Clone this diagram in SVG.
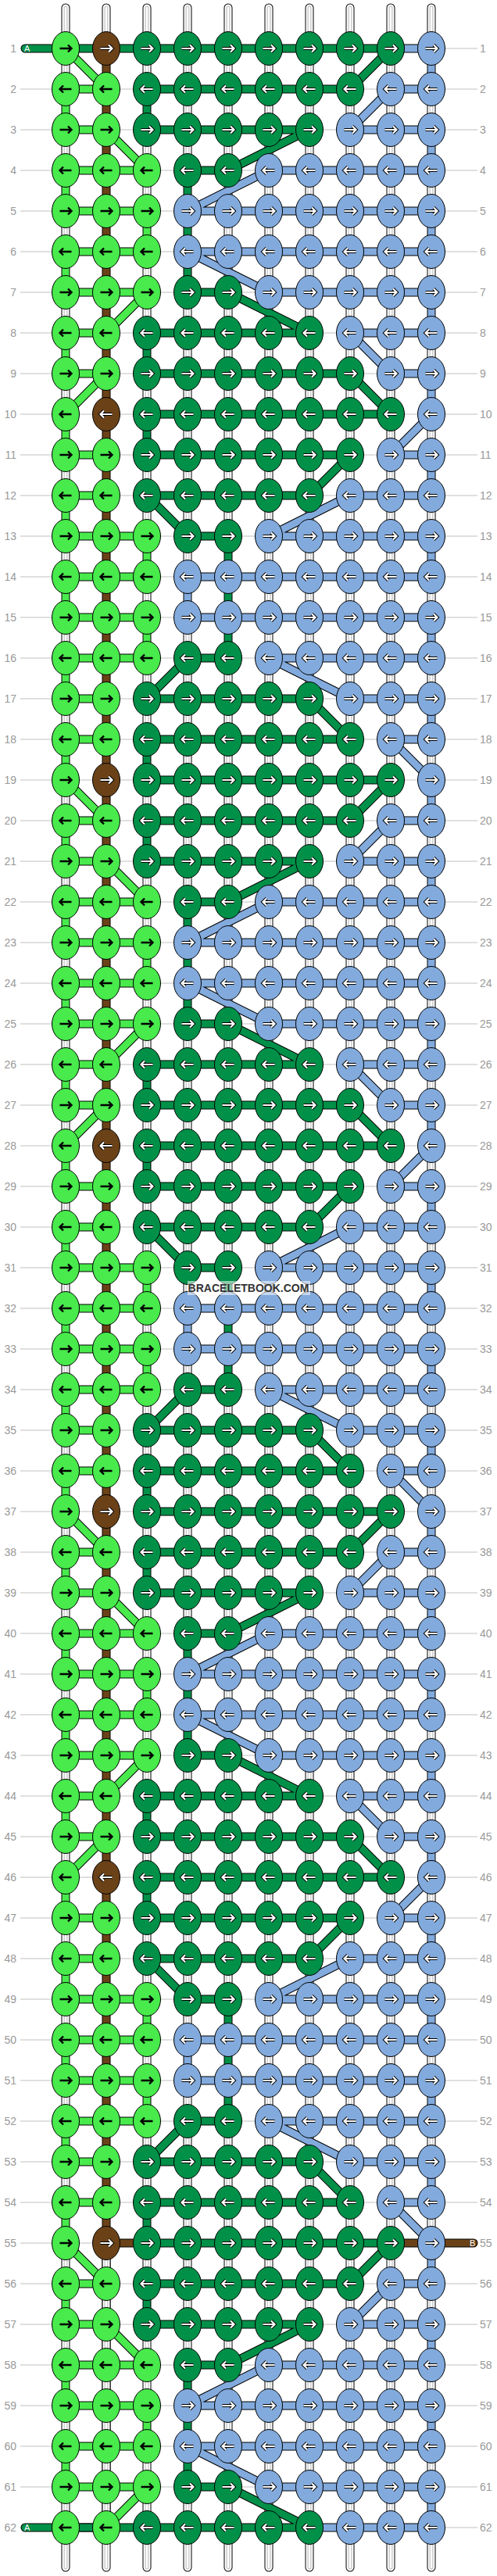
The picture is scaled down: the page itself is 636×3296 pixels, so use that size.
<svg xmlns="http://www.w3.org/2000/svg" width="636" height="3296" viewBox="0 0 636 3296">
<style>
.o{fill:none;stroke:#000;stroke-width:11}
.w{fill:none;stroke:#fff;stroke-width:9}
.g{fill:none;stroke:#c4c4c4;stroke-width:5}
.w2{fill:none;stroke:#fff;stroke-width:2.4}
.l{fill:none;stroke:#48ea4c;stroke-width:9}
.d{fill:none;stroke:#009048;stroke-width:9}
.b{fill:none;stroke:#82aadd;stroke-width:9}
.r{fill:none;stroke:#6b4218;stroke-width:9}
.rc{stroke-linecap:round}
.rl{fill:none;stroke:#c0c0c0;stroke-width:1}
.kL{fill:#48ea4c;stroke:#000;stroke-width:1}
.kD{fill:#009048;stroke:#000;stroke-width:1}
.kB{fill:#82aadd;stroke:#000;stroke-width:1}
.kR{fill:#6b4218;stroke:#000;stroke-width:1}
.ak{fill:none;stroke:#000;stroke-width:2.4}
.ao{fill:none;stroke:#000;stroke-width:4.2}
.aw{fill:none;stroke:#fff;stroke-width:2.2}
.lb{font-family:"Liberation Sans",Arial,sans-serif;font-size:14px;fill:#999}
.le{text-anchor:end}
.tag{font-family:"Liberation Sans",Arial,sans-serif;font-size:11px;fill:#fff}
.wm{font-family:"Liberation Sans",Arial,sans-serif;font-size:14px;font-weight:bold;fill:#333;text-anchor:middle}
</style>
<defs>
<ellipse id="e" rx="17.5" ry="21.5"/>
<path id="ar" d="M-7.5 0H7M3-4.5L7.5 0L3 4.5"/>
<path id="al" d="M7.5 0H-7M-3-4.5L-7.5 0L-3 4.5"/>
<g id="Lr"><use href="#e" class="kL"/><use href="#ar" class="ak"/></g>
<g id="Ll"><use href="#e" class="kL"/><use href="#al" class="ak"/></g>
<g id="Dr"><use href="#e" class="kD"/><use href="#ar" class="ao"/><use href="#ar" class="aw"/></g>
<g id="Dl"><use href="#e" class="kD"/><use href="#al" class="ao"/><use href="#al" class="aw"/></g>
<g id="Br"><use href="#e" class="kB"/><use href="#ar" class="ao"/><use href="#ar" class="aw"/></g>
<g id="Bl"><use href="#e" class="kB"/><use href="#al" class="ao"/><use href="#al" class="aw"/></g>
<g id="Rr"><use href="#e" class="kR"/><use href="#ar" class="ao"/><use href="#ar" class="aw"/></g>
<g id="Rl"><use href="#e" class="kR"/><use href="#al" class="ao"/><use href="#al" class="aw"/></g>
<path id="rA" d="M26 62H611M26 114H611M26 166H611M26 218H611M26 270H611M26 322H611M26 374H611M26 426H611"/>
<path id="rB" d="M26 478H611M26 530H611M26 582H611M26 634H611M26 686H611M26 738H611M26 790H611M26 842H611M26 894H611M26 946H611"/>
<path id="aW" d="M84 62V114M84 166V218M84 270V322M84 374V426M188 62V114M188 166V270M188 322V426M240 62V218M240 374V426M292 62V426M344 62V426M396 62V426M448 62V426M500 62V426M552 114V166M552 218V270M552 322V374"/>
<path id="aL" d="M84 114H136M84 166H136M84 218H188M84 270H188M84 322H188M84 374H188M84 426H136M84 114V166M84 218V270M84 322V374M188 270V322M84 62L136 114M136 166L188 218M188 374L136 426"/>
<path id="aD" d="M188 62H500M188 114H448M188 166H396M240 218H292M240 374H292M188 426H396M188 114V166M240 218V374M500 62L448 114M396 166L292 218M292 374L396 426"/>
<path id="aB" d="M500 114H552M448 166H552M344 218H552M240 270H552M240 322H552M344 374H552M448 426H552M552 62V114M552 166V218M552 270V322M552 374V426M500 114L448 166M344 218L240 270M240 322L344 374"/>
<path id="aR" d="M136 62V426"/>
<path id="bW" d="M84 478V530M84 582V634M84 686V738M84 790V842M84 894V946M188 478V530M188 582V686M188 738V790M188 842V946M240 426V738M240 790V998M292 426V686M292 842V998M344 426V998M396 426V998M448 426V998M500 426V998M552 426V478M552 530V582M552 634V686M552 738V790M552 842V894M552 946V998"/>
<path id="bL" d="M84 478H136M84 582H136M84 634H136M84 686H188M84 738H188M84 790H188M84 842H188M84 894H136M84 946H136M84 426V478M84 530V582M84 634V686M84 738V790M84 842V894M84 946V998M188 686V738M188 790V842M136 478L84 530"/>
<path id="bD" d="M188 478H448M188 530H500M188 582H448M188 634H396M240 686H292M240 842H292M188 894H396M188 946H448M188 426V478M188 530V582M188 946V998M292 686V842M448 478L500 530M448 582L396 634M188 634L240 686M240 842L188 894M396 894L448 946"/>
<path id="bB" d="M500 478H552M500 582H552M448 634H552M344 686H552M240 738H552M240 790H552M344 842H552M448 894H552M500 946H552M552 478V530M552 582V634M552 686V738M552 790V842M552 894V946M240 738V790M448 426L500 478M552 530L500 582M448 634L344 686M344 842L448 894M500 946L552 998"/>
<path id="bR" d="M136 426V998"/>
<path id="oW" d="M84 10V62M136 10V62M188 10V62M240 10V62M292 10V62M344 10V62M396 10V62M448 10V62M500 10V62M552 10V62M84 3234V3285M136 3234V3285M188 3234V3285M240 3234V3285M292 3234V3285M344 3234V3285M396 3234V3285M448 3234V3285M500 3234V3285M552 3234V3285M136 2870V3234"/>
<path id="oD" d="M32 62H188M32 3234H188"/>
<path id="oB" d="M500 62H552M396 3234H448"/>
<path id="oR" d="M136 2870H188M500 2870H606"/>
<g id="gA">
<use href="#aW" class="o"/><use href="#aW" class="w"/><use href="#aW" class="g"/><use href="#aW" class="w2"/>
<use href="#aL" class="o"/><use href="#aL" class="l"/>
<use href="#aD" class="o"/><use href="#aD" class="d"/>
<use href="#aB" class="o"/><use href="#aB" class="b"/>
<use href="#aR" class="o"/><use href="#aR" class="r"/>
</g>
<g id="gB">
<use href="#bW" class="o"/><use href="#bW" class="w"/><use href="#bW" class="g"/><use href="#bW" class="w2"/>
<use href="#bL" class="o"/><use href="#bL" class="l"/>
<use href="#bD" class="o"/><use href="#bD" class="d"/>
<use href="#bB" class="o"/><use href="#bB" class="b"/>
<use href="#bR" class="o"/><use href="#bR" class="r"/>
</g>
</defs>
<rect width="636" height="3296" fill="#fff"/>
<g id="rowlines">
<use href="#rA" class="rl"/><use href="#rB" class="rl"/>
<use href="#rA" class="rl" y="936"/><use href="#rB" class="rl" y="936"/>
<use href="#rA" class="rl" y="1872"/><use href="#rB" class="rl" y="1872"/>
<use href="#rA" class="rl" y="2808"/>
</g>
<g id="connectors">
<use href="#gA"/><use href="#gB"/>
<use href="#gA" y="936"/><use href="#gB" y="936"/>
<use href="#gA" y="1872"/><use href="#gB" y="1872"/>
<use href="#gA" y="2808"/>
<use href="#oW" class="o rc"/><use href="#oW" class="w rc"/><use href="#oW" class="g rc"/><use href="#oW" class="w2 rc"/>
<use href="#oD" class="o rc"/><use href="#oD" class="d rc"/>
<use href="#oB" class="o"/><use href="#oB" class="b"/>
<use href="#oR" class="o rc"/><use href="#oR" class="r rc"/>
</g>
<g id="knots">
<g id="k1_1"><use href="#Lr" x="84" y="62"/></g><g id="k1_2"><use href="#Rr" x="136" y="62"/></g><g id="k1_3"><use href="#Dr" x="188" y="62"/></g><g id="k1_4"><use href="#Dr" x="240" y="62"/></g><g id="k1_5"><use href="#Dr" x="292" y="62"/></g><g id="k1_6"><use href="#Dr" x="344" y="62"/></g><g id="k1_7"><use href="#Dr" x="396" y="62"/></g><g id="k1_8"><use href="#Dr" x="448" y="62"/></g><g id="k1_9"><use href="#Dr" x="500" y="62"/></g><g id="k1_10"><use href="#Br" x="552" y="62"/></g>
<g id="k2_1"><use href="#Ll" x="84" y="114"/></g><g id="k2_2"><use href="#Ll" x="136" y="114"/></g><g id="k2_3"><use href="#Dl" x="188" y="114"/></g><g id="k2_4"><use href="#Dl" x="240" y="114"/></g><g id="k2_5"><use href="#Dl" x="292" y="114"/></g><g id="k2_6"><use href="#Dl" x="344" y="114"/></g><g id="k2_7"><use href="#Dl" x="396" y="114"/></g><g id="k2_8"><use href="#Dl" x="448" y="114"/></g><g id="k2_9"><use href="#Bl" x="500" y="114"/></g><g id="k2_10"><use href="#Bl" x="552" y="114"/></g>
<g id="k3_1"><use href="#Lr" x="84" y="166"/></g><g id="k3_2"><use href="#Lr" x="136" y="166"/></g><g id="k3_3"><use href="#Dr" x="188" y="166"/></g><g id="k3_4"><use href="#Dr" x="240" y="166"/></g><g id="k3_5"><use href="#Dr" x="292" y="166"/></g><g id="k3_6"><use href="#Dr" x="344" y="166"/></g><g id="k3_7"><use href="#Dr" x="396" y="166"/></g><g id="k3_8"><use href="#Br" x="448" y="166"/></g><g id="k3_9"><use href="#Br" x="500" y="166"/></g><g id="k3_10"><use href="#Br" x="552" y="166"/></g>
<g id="k4_1"><use href="#Ll" x="84" y="218"/></g><g id="k4_2"><use href="#Ll" x="136" y="218"/></g><g id="k4_3"><use href="#Ll" x="188" y="218"/></g><g id="k4_4"><use href="#Dl" x="240" y="218"/></g><g id="k4_5"><use href="#Dl" x="292" y="218"/></g><g id="k4_6"><use href="#Bl" x="344" y="218"/></g><g id="k4_7"><use href="#Bl" x="396" y="218"/></g><g id="k4_8"><use href="#Bl" x="448" y="218"/></g><g id="k4_9"><use href="#Bl" x="500" y="218"/></g><g id="k4_10"><use href="#Bl" x="552" y="218"/></g>
<g id="k5_1"><use href="#Lr" x="84" y="270"/></g><g id="k5_2"><use href="#Lr" x="136" y="270"/></g><g id="k5_3"><use href="#Lr" x="188" y="270"/></g><g id="k5_4"><use href="#Br" x="240" y="270"/></g><g id="k5_5"><use href="#Br" x="292" y="270"/></g><g id="k5_6"><use href="#Br" x="344" y="270"/></g><g id="k5_7"><use href="#Br" x="396" y="270"/></g><g id="k5_8"><use href="#Br" x="448" y="270"/></g><g id="k5_9"><use href="#Br" x="500" y="270"/></g><g id="k5_10"><use href="#Br" x="552" y="270"/></g>
<g id="k6_1"><use href="#Ll" x="84" y="322"/></g><g id="k6_2"><use href="#Ll" x="136" y="322"/></g><g id="k6_3"><use href="#Ll" x="188" y="322"/></g><g id="k6_4"><use href="#Bl" x="240" y="322"/></g><g id="k6_5"><use href="#Bl" x="292" y="322"/></g><g id="k6_6"><use href="#Bl" x="344" y="322"/></g><g id="k6_7"><use href="#Bl" x="396" y="322"/></g><g id="k6_8"><use href="#Bl" x="448" y="322"/></g><g id="k6_9"><use href="#Bl" x="500" y="322"/></g><g id="k6_10"><use href="#Bl" x="552" y="322"/></g>
<g id="k7_1"><use href="#Lr" x="84" y="374"/></g><g id="k7_2"><use href="#Lr" x="136" y="374"/></g><g id="k7_3"><use href="#Lr" x="188" y="374"/></g><g id="k7_4"><use href="#Dr" x="240" y="374"/></g><g id="k7_5"><use href="#Dr" x="292" y="374"/></g><g id="k7_6"><use href="#Br" x="344" y="374"/></g><g id="k7_7"><use href="#Br" x="396" y="374"/></g><g id="k7_8"><use href="#Br" x="448" y="374"/></g><g id="k7_9"><use href="#Br" x="500" y="374"/></g><g id="k7_10"><use href="#Br" x="552" y="374"/></g>
<g id="k8_1"><use href="#Ll" x="84" y="426"/></g><g id="k8_2"><use href="#Ll" x="136" y="426"/></g><g id="k8_3"><use href="#Dl" x="188" y="426"/></g><g id="k8_4"><use href="#Dl" x="240" y="426"/></g><g id="k8_5"><use href="#Dl" x="292" y="426"/></g><g id="k8_6"><use href="#Dl" x="344" y="426"/></g><g id="k8_7"><use href="#Dl" x="396" y="426"/></g><g id="k8_8"><use href="#Bl" x="448" y="426"/></g><g id="k8_9"><use href="#Bl" x="500" y="426"/></g><g id="k8_10"><use href="#Bl" x="552" y="426"/></g>
<g id="k9_1"><use href="#Lr" x="84" y="478"/></g><g id="k9_2"><use href="#Lr" x="136" y="478"/></g><g id="k9_3"><use href="#Dr" x="188" y="478"/></g><g id="k9_4"><use href="#Dr" x="240" y="478"/></g><g id="k9_5"><use href="#Dr" x="292" y="478"/></g><g id="k9_6"><use href="#Dr" x="344" y="478"/></g><g id="k9_7"><use href="#Dr" x="396" y="478"/></g><g id="k9_8"><use href="#Dr" x="448" y="478"/></g><g id="k9_9"><use href="#Br" x="500" y="478"/></g><g id="k9_10"><use href="#Br" x="552" y="478"/></g>
<g id="k10_1"><use href="#Ll" x="84" y="530"/></g><g id="k10_2"><use href="#Rl" x="136" y="530"/></g><g id="k10_3"><use href="#Dl" x="188" y="530"/></g><g id="k10_4"><use href="#Dl" x="240" y="530"/></g><g id="k10_5"><use href="#Dl" x="292" y="530"/></g><g id="k10_6"><use href="#Dl" x="344" y="530"/></g><g id="k10_7"><use href="#Dl" x="396" y="530"/></g><g id="k10_8"><use href="#Dl" x="448" y="530"/></g><g id="k10_9"><use href="#Dl" x="500" y="530"/></g><g id="k10_10"><use href="#Bl" x="552" y="530"/></g>
<g id="k11_1"><use href="#Lr" x="84" y="582"/></g><g id="k11_2"><use href="#Lr" x="136" y="582"/></g><g id="k11_3"><use href="#Dr" x="188" y="582"/></g><g id="k11_4"><use href="#Dr" x="240" y="582"/></g><g id="k11_5"><use href="#Dr" x="292" y="582"/></g><g id="k11_6"><use href="#Dr" x="344" y="582"/></g><g id="k11_7"><use href="#Dr" x="396" y="582"/></g><g id="k11_8"><use href="#Dr" x="448" y="582"/></g><g id="k11_9"><use href="#Br" x="500" y="582"/></g><g id="k11_10"><use href="#Br" x="552" y="582"/></g>
<g id="k12_1"><use href="#Ll" x="84" y="634"/></g><g id="k12_2"><use href="#Ll" x="136" y="634"/></g><g id="k12_3"><use href="#Dl" x="188" y="634"/></g><g id="k12_4"><use href="#Dl" x="240" y="634"/></g><g id="k12_5"><use href="#Dl" x="292" y="634"/></g><g id="k12_6"><use href="#Dl" x="344" y="634"/></g><g id="k12_7"><use href="#Dl" x="396" y="634"/></g><g id="k12_8"><use href="#Bl" x="448" y="634"/></g><g id="k12_9"><use href="#Bl" x="500" y="634"/></g><g id="k12_10"><use href="#Bl" x="552" y="634"/></g>
<g id="k13_1"><use href="#Lr" x="84" y="686"/></g><g id="k13_2"><use href="#Lr" x="136" y="686"/></g><g id="k13_3"><use href="#Lr" x="188" y="686"/></g><g id="k13_4"><use href="#Dr" x="240" y="686"/></g><g id="k13_5"><use href="#Dr" x="292" y="686"/></g><g id="k13_6"><use href="#Br" x="344" y="686"/></g><g id="k13_7"><use href="#Br" x="396" y="686"/></g><g id="k13_8"><use href="#Br" x="448" y="686"/></g><g id="k13_9"><use href="#Br" x="500" y="686"/></g><g id="k13_10"><use href="#Br" x="552" y="686"/></g>
<g id="k14_1"><use href="#Ll" x="84" y="738"/></g><g id="k14_2"><use href="#Ll" x="136" y="738"/></g><g id="k14_3"><use href="#Ll" x="188" y="738"/></g><g id="k14_4"><use href="#Bl" x="240" y="738"/></g><g id="k14_5"><use href="#Bl" x="292" y="738"/></g><g id="k14_6"><use href="#Bl" x="344" y="738"/></g><g id="k14_7"><use href="#Bl" x="396" y="738"/></g><g id="k14_8"><use href="#Bl" x="448" y="738"/></g><g id="k14_9"><use href="#Bl" x="500" y="738"/></g><g id="k14_10"><use href="#Bl" x="552" y="738"/></g>
<g id="k15_1"><use href="#Lr" x="84" y="790"/></g><g id="k15_2"><use href="#Lr" x="136" y="790"/></g><g id="k15_3"><use href="#Lr" x="188" y="790"/></g><g id="k15_4"><use href="#Br" x="240" y="790"/></g><g id="k15_5"><use href="#Br" x="292" y="790"/></g><g id="k15_6"><use href="#Br" x="344" y="790"/></g><g id="k15_7"><use href="#Br" x="396" y="790"/></g><g id="k15_8"><use href="#Br" x="448" y="790"/></g><g id="k15_9"><use href="#Br" x="500" y="790"/></g><g id="k15_10"><use href="#Br" x="552" y="790"/></g>
<g id="k16_1"><use href="#Ll" x="84" y="842"/></g><g id="k16_2"><use href="#Ll" x="136" y="842"/></g><g id="k16_3"><use href="#Ll" x="188" y="842"/></g><g id="k16_4"><use href="#Dl" x="240" y="842"/></g><g id="k16_5"><use href="#Dl" x="292" y="842"/></g><g id="k16_6"><use href="#Bl" x="344" y="842"/></g><g id="k16_7"><use href="#Bl" x="396" y="842"/></g><g id="k16_8"><use href="#Bl" x="448" y="842"/></g><g id="k16_9"><use href="#Bl" x="500" y="842"/></g><g id="k16_10"><use href="#Bl" x="552" y="842"/></g>
<g id="k17_1"><use href="#Lr" x="84" y="894"/></g><g id="k17_2"><use href="#Lr" x="136" y="894"/></g><g id="k17_3"><use href="#Dr" x="188" y="894"/></g><g id="k17_4"><use href="#Dr" x="240" y="894"/></g><g id="k17_5"><use href="#Dr" x="292" y="894"/></g><g id="k17_6"><use href="#Dr" x="344" y="894"/></g><g id="k17_7"><use href="#Dr" x="396" y="894"/></g><g id="k17_8"><use href="#Br" x="448" y="894"/></g><g id="k17_9"><use href="#Br" x="500" y="894"/></g><g id="k17_10"><use href="#Br" x="552" y="894"/></g>
<g id="k18_1"><use href="#Ll" x="84" y="946"/></g><g id="k18_2"><use href="#Ll" x="136" y="946"/></g><g id="k18_3"><use href="#Dl" x="188" y="946"/></g><g id="k18_4"><use href="#Dl" x="240" y="946"/></g><g id="k18_5"><use href="#Dl" x="292" y="946"/></g><g id="k18_6"><use href="#Dl" x="344" y="946"/></g><g id="k18_7"><use href="#Dl" x="396" y="946"/></g><g id="k18_8"><use href="#Dl" x="448" y="946"/></g><g id="k18_9"><use href="#Bl" x="500" y="946"/></g><g id="k18_10"><use href="#Bl" x="552" y="946"/></g>
<g id="k19_1"><use href="#Lr" x="84" y="998"/></g><g id="k19_2"><use href="#Rr" x="136" y="998"/></g><g id="k19_3"><use href="#Dr" x="188" y="998"/></g><g id="k19_4"><use href="#Dr" x="240" y="998"/></g><g id="k19_5"><use href="#Dr" x="292" y="998"/></g><g id="k19_6"><use href="#Dr" x="344" y="998"/></g><g id="k19_7"><use href="#Dr" x="396" y="998"/></g><g id="k19_8"><use href="#Dr" x="448" y="998"/></g><g id="k19_9"><use href="#Dr" x="500" y="998"/></g><g id="k19_10"><use href="#Br" x="552" y="998"/></g>
<g id="k20_1"><use href="#Ll" x="84" y="1050"/></g><g id="k20_2"><use href="#Ll" x="136" y="1050"/></g><g id="k20_3"><use href="#Dl" x="188" y="1050"/></g><g id="k20_4"><use href="#Dl" x="240" y="1050"/></g><g id="k20_5"><use href="#Dl" x="292" y="1050"/></g><g id="k20_6"><use href="#Dl" x="344" y="1050"/></g><g id="k20_7"><use href="#Dl" x="396" y="1050"/></g><g id="k20_8"><use href="#Dl" x="448" y="1050"/></g><g id="k20_9"><use href="#Bl" x="500" y="1050"/></g><g id="k20_10"><use href="#Bl" x="552" y="1050"/></g>
<g id="k21_1"><use href="#Lr" x="84" y="1102"/></g><g id="k21_2"><use href="#Lr" x="136" y="1102"/></g><g id="k21_3"><use href="#Dr" x="188" y="1102"/></g><g id="k21_4"><use href="#Dr" x="240" y="1102"/></g><g id="k21_5"><use href="#Dr" x="292" y="1102"/></g><g id="k21_6"><use href="#Dr" x="344" y="1102"/></g><g id="k21_7"><use href="#Dr" x="396" y="1102"/></g><g id="k21_8"><use href="#Br" x="448" y="1102"/></g><g id="k21_9"><use href="#Br" x="500" y="1102"/></g><g id="k21_10"><use href="#Br" x="552" y="1102"/></g>
<g id="k22_1"><use href="#Ll" x="84" y="1154"/></g><g id="k22_2"><use href="#Ll" x="136" y="1154"/></g><g id="k22_3"><use href="#Ll" x="188" y="1154"/></g><g id="k22_4"><use href="#Dl" x="240" y="1154"/></g><g id="k22_5"><use href="#Dl" x="292" y="1154"/></g><g id="k22_6"><use href="#Bl" x="344" y="1154"/></g><g id="k22_7"><use href="#Bl" x="396" y="1154"/></g><g id="k22_8"><use href="#Bl" x="448" y="1154"/></g><g id="k22_9"><use href="#Bl" x="500" y="1154"/></g><g id="k22_10"><use href="#Bl" x="552" y="1154"/></g>
<g id="k23_1"><use href="#Lr" x="84" y="1206"/></g><g id="k23_2"><use href="#Lr" x="136" y="1206"/></g><g id="k23_3"><use href="#Lr" x="188" y="1206"/></g><g id="k23_4"><use href="#Br" x="240" y="1206"/></g><g id="k23_5"><use href="#Br" x="292" y="1206"/></g><g id="k23_6"><use href="#Br" x="344" y="1206"/></g><g id="k23_7"><use href="#Br" x="396" y="1206"/></g><g id="k23_8"><use href="#Br" x="448" y="1206"/></g><g id="k23_9"><use href="#Br" x="500" y="1206"/></g><g id="k23_10"><use href="#Br" x="552" y="1206"/></g>
<g id="k24_1"><use href="#Ll" x="84" y="1258"/></g><g id="k24_2"><use href="#Ll" x="136" y="1258"/></g><g id="k24_3"><use href="#Ll" x="188" y="1258"/></g><g id="k24_4"><use href="#Bl" x="240" y="1258"/></g><g id="k24_5"><use href="#Bl" x="292" y="1258"/></g><g id="k24_6"><use href="#Bl" x="344" y="1258"/></g><g id="k24_7"><use href="#Bl" x="396" y="1258"/></g><g id="k24_8"><use href="#Bl" x="448" y="1258"/></g><g id="k24_9"><use href="#Bl" x="500" y="1258"/></g><g id="k24_10"><use href="#Bl" x="552" y="1258"/></g>
<g id="k25_1"><use href="#Lr" x="84" y="1310"/></g><g id="k25_2"><use href="#Lr" x="136" y="1310"/></g><g id="k25_3"><use href="#Lr" x="188" y="1310"/></g><g id="k25_4"><use href="#Dr" x="240" y="1310"/></g><g id="k25_5"><use href="#Dr" x="292" y="1310"/></g><g id="k25_6"><use href="#Br" x="344" y="1310"/></g><g id="k25_7"><use href="#Br" x="396" y="1310"/></g><g id="k25_8"><use href="#Br" x="448" y="1310"/></g><g id="k25_9"><use href="#Br" x="500" y="1310"/></g><g id="k25_10"><use href="#Br" x="552" y="1310"/></g>
<g id="k26_1"><use href="#Ll" x="84" y="1362"/></g><g id="k26_2"><use href="#Ll" x="136" y="1362"/></g><g id="k26_3"><use href="#Dl" x="188" y="1362"/></g><g id="k26_4"><use href="#Dl" x="240" y="1362"/></g><g id="k26_5"><use href="#Dl" x="292" y="1362"/></g><g id="k26_6"><use href="#Dl" x="344" y="1362"/></g><g id="k26_7"><use href="#Dl" x="396" y="1362"/></g><g id="k26_8"><use href="#Bl" x="448" y="1362"/></g><g id="k26_9"><use href="#Bl" x="500" y="1362"/></g><g id="k26_10"><use href="#Bl" x="552" y="1362"/></g>
<g id="k27_1"><use href="#Lr" x="84" y="1414"/></g><g id="k27_2"><use href="#Lr" x="136" y="1414"/></g><g id="k27_3"><use href="#Dr" x="188" y="1414"/></g><g id="k27_4"><use href="#Dr" x="240" y="1414"/></g><g id="k27_5"><use href="#Dr" x="292" y="1414"/></g><g id="k27_6"><use href="#Dr" x="344" y="1414"/></g><g id="k27_7"><use href="#Dr" x="396" y="1414"/></g><g id="k27_8"><use href="#Dr" x="448" y="1414"/></g><g id="k27_9"><use href="#Br" x="500" y="1414"/></g><g id="k27_10"><use href="#Br" x="552" y="1414"/></g>
<g id="k28_1"><use href="#Ll" x="84" y="1466"/></g><g id="k28_2"><use href="#Rl" x="136" y="1466"/></g><g id="k28_3"><use href="#Dl" x="188" y="1466"/></g><g id="k28_4"><use href="#Dl" x="240" y="1466"/></g><g id="k28_5"><use href="#Dl" x="292" y="1466"/></g><g id="k28_6"><use href="#Dl" x="344" y="1466"/></g><g id="k28_7"><use href="#Dl" x="396" y="1466"/></g><g id="k28_8"><use href="#Dl" x="448" y="1466"/></g><g id="k28_9"><use href="#Dl" x="500" y="1466"/></g><g id="k28_10"><use href="#Bl" x="552" y="1466"/></g>
<g id="k29_1"><use href="#Lr" x="84" y="1518"/></g><g id="k29_2"><use href="#Lr" x="136" y="1518"/></g><g id="k29_3"><use href="#Dr" x="188" y="1518"/></g><g id="k29_4"><use href="#Dr" x="240" y="1518"/></g><g id="k29_5"><use href="#Dr" x="292" y="1518"/></g><g id="k29_6"><use href="#Dr" x="344" y="1518"/></g><g id="k29_7"><use href="#Dr" x="396" y="1518"/></g><g id="k29_8"><use href="#Dr" x="448" y="1518"/></g><g id="k29_9"><use href="#Br" x="500" y="1518"/></g><g id="k29_10"><use href="#Br" x="552" y="1518"/></g>
<g id="k30_1"><use href="#Ll" x="84" y="1570"/></g><g id="k30_2"><use href="#Ll" x="136" y="1570"/></g><g id="k30_3"><use href="#Dl" x="188" y="1570"/></g><g id="k30_4"><use href="#Dl" x="240" y="1570"/></g><g id="k30_5"><use href="#Dl" x="292" y="1570"/></g><g id="k30_6"><use href="#Dl" x="344" y="1570"/></g><g id="k30_7"><use href="#Dl" x="396" y="1570"/></g><g id="k30_8"><use href="#Bl" x="448" y="1570"/></g><g id="k30_9"><use href="#Bl" x="500" y="1570"/></g><g id="k30_10"><use href="#Bl" x="552" y="1570"/></g>
<g id="k31_1"><use href="#Lr" x="84" y="1622"/></g><g id="k31_2"><use href="#Lr" x="136" y="1622"/></g><g id="k31_3"><use href="#Lr" x="188" y="1622"/></g><g id="k31_4"><use href="#Dr" x="240" y="1622"/></g><g id="k31_5"><use href="#Dr" x="292" y="1622"/></g><g id="k31_6"><use href="#Br" x="344" y="1622"/></g><g id="k31_7"><use href="#Br" x="396" y="1622"/></g><g id="k31_8"><use href="#Br" x="448" y="1622"/></g><g id="k31_9"><use href="#Br" x="500" y="1622"/></g><g id="k31_10"><use href="#Br" x="552" y="1622"/></g>
<g id="k32_1"><use href="#Ll" x="84" y="1674"/></g><g id="k32_2"><use href="#Ll" x="136" y="1674"/></g><g id="k32_3"><use href="#Ll" x="188" y="1674"/></g><g id="k32_4"><use href="#Bl" x="240" y="1674"/></g><g id="k32_5"><use href="#Bl" x="292" y="1674"/></g><g id="k32_6"><use href="#Bl" x="344" y="1674"/></g><g id="k32_7"><use href="#Bl" x="396" y="1674"/></g><g id="k32_8"><use href="#Bl" x="448" y="1674"/></g><g id="k32_9"><use href="#Bl" x="500" y="1674"/></g><g id="k32_10"><use href="#Bl" x="552" y="1674"/></g>
<g id="k33_1"><use href="#Lr" x="84" y="1726"/></g><g id="k33_2"><use href="#Lr" x="136" y="1726"/></g><g id="k33_3"><use href="#Lr" x="188" y="1726"/></g><g id="k33_4"><use href="#Br" x="240" y="1726"/></g><g id="k33_5"><use href="#Br" x="292" y="1726"/></g><g id="k33_6"><use href="#Br" x="344" y="1726"/></g><g id="k33_7"><use href="#Br" x="396" y="1726"/></g><g id="k33_8"><use href="#Br" x="448" y="1726"/></g><g id="k33_9"><use href="#Br" x="500" y="1726"/></g><g id="k33_10"><use href="#Br" x="552" y="1726"/></g>
<g id="k34_1"><use href="#Ll" x="84" y="1778"/></g><g id="k34_2"><use href="#Ll" x="136" y="1778"/></g><g id="k34_3"><use href="#Ll" x="188" y="1778"/></g><g id="k34_4"><use href="#Dl" x="240" y="1778"/></g><g id="k34_5"><use href="#Dl" x="292" y="1778"/></g><g id="k34_6"><use href="#Bl" x="344" y="1778"/></g><g id="k34_7"><use href="#Bl" x="396" y="1778"/></g><g id="k34_8"><use href="#Bl" x="448" y="1778"/></g><g id="k34_9"><use href="#Bl" x="500" y="1778"/></g><g id="k34_10"><use href="#Bl" x="552" y="1778"/></g>
<g id="k35_1"><use href="#Lr" x="84" y="1830"/></g><g id="k35_2"><use href="#Lr" x="136" y="1830"/></g><g id="k35_3"><use href="#Dr" x="188" y="1830"/></g><g id="k35_4"><use href="#Dr" x="240" y="1830"/></g><g id="k35_5"><use href="#Dr" x="292" y="1830"/></g><g id="k35_6"><use href="#Dr" x="344" y="1830"/></g><g id="k35_7"><use href="#Dr" x="396" y="1830"/></g><g id="k35_8"><use href="#Br" x="448" y="1830"/></g><g id="k35_9"><use href="#Br" x="500" y="1830"/></g><g id="k35_10"><use href="#Br" x="552" y="1830"/></g>
<g id="k36_1"><use href="#Ll" x="84" y="1882"/></g><g id="k36_2"><use href="#Ll" x="136" y="1882"/></g><g id="k36_3"><use href="#Dl" x="188" y="1882"/></g><g id="k36_4"><use href="#Dl" x="240" y="1882"/></g><g id="k36_5"><use href="#Dl" x="292" y="1882"/></g><g id="k36_6"><use href="#Dl" x="344" y="1882"/></g><g id="k36_7"><use href="#Dl" x="396" y="1882"/></g><g id="k36_8"><use href="#Dl" x="448" y="1882"/></g><g id="k36_9"><use href="#Bl" x="500" y="1882"/></g><g id="k36_10"><use href="#Bl" x="552" y="1882"/></g>
<g id="k37_1"><use href="#Lr" x="84" y="1934"/></g><g id="k37_2"><use href="#Rr" x="136" y="1934"/></g><g id="k37_3"><use href="#Dr" x="188" y="1934"/></g><g id="k37_4"><use href="#Dr" x="240" y="1934"/></g><g id="k37_5"><use href="#Dr" x="292" y="1934"/></g><g id="k37_6"><use href="#Dr" x="344" y="1934"/></g><g id="k37_7"><use href="#Dr" x="396" y="1934"/></g><g id="k37_8"><use href="#Dr" x="448" y="1934"/></g><g id="k37_9"><use href="#Dr" x="500" y="1934"/></g><g id="k37_10"><use href="#Br" x="552" y="1934"/></g>
<g id="k38_1"><use href="#Ll" x="84" y="1986"/></g><g id="k38_2"><use href="#Ll" x="136" y="1986"/></g><g id="k38_3"><use href="#Dl" x="188" y="1986"/></g><g id="k38_4"><use href="#Dl" x="240" y="1986"/></g><g id="k38_5"><use href="#Dl" x="292" y="1986"/></g><g id="k38_6"><use href="#Dl" x="344" y="1986"/></g><g id="k38_7"><use href="#Dl" x="396" y="1986"/></g><g id="k38_8"><use href="#Dl" x="448" y="1986"/></g><g id="k38_9"><use href="#Bl" x="500" y="1986"/></g><g id="k38_10"><use href="#Bl" x="552" y="1986"/></g>
<g id="k39_1"><use href="#Lr" x="84" y="2038"/></g><g id="k39_2"><use href="#Lr" x="136" y="2038"/></g><g id="k39_3"><use href="#Dr" x="188" y="2038"/></g><g id="k39_4"><use href="#Dr" x="240" y="2038"/></g><g id="k39_5"><use href="#Dr" x="292" y="2038"/></g><g id="k39_6"><use href="#Dr" x="344" y="2038"/></g><g id="k39_7"><use href="#Dr" x="396" y="2038"/></g><g id="k39_8"><use href="#Br" x="448" y="2038"/></g><g id="k39_9"><use href="#Br" x="500" y="2038"/></g><g id="k39_10"><use href="#Br" x="552" y="2038"/></g>
<g id="k40_1"><use href="#Ll" x="84" y="2090"/></g><g id="k40_2"><use href="#Ll" x="136" y="2090"/></g><g id="k40_3"><use href="#Ll" x="188" y="2090"/></g><g id="k40_4"><use href="#Dl" x="240" y="2090"/></g><g id="k40_5"><use href="#Dl" x="292" y="2090"/></g><g id="k40_6"><use href="#Bl" x="344" y="2090"/></g><g id="k40_7"><use href="#Bl" x="396" y="2090"/></g><g id="k40_8"><use href="#Bl" x="448" y="2090"/></g><g id="k40_9"><use href="#Bl" x="500" y="2090"/></g><g id="k40_10"><use href="#Bl" x="552" y="2090"/></g>
<g id="k41_1"><use href="#Lr" x="84" y="2142"/></g><g id="k41_2"><use href="#Lr" x="136" y="2142"/></g><g id="k41_3"><use href="#Lr" x="188" y="2142"/></g><g id="k41_4"><use href="#Br" x="240" y="2142"/></g><g id="k41_5"><use href="#Br" x="292" y="2142"/></g><g id="k41_6"><use href="#Br" x="344" y="2142"/></g><g id="k41_7"><use href="#Br" x="396" y="2142"/></g><g id="k41_8"><use href="#Br" x="448" y="2142"/></g><g id="k41_9"><use href="#Br" x="500" y="2142"/></g><g id="k41_10"><use href="#Br" x="552" y="2142"/></g>
<g id="k42_1"><use href="#Ll" x="84" y="2194"/></g><g id="k42_2"><use href="#Ll" x="136" y="2194"/></g><g id="k42_3"><use href="#Ll" x="188" y="2194"/></g><g id="k42_4"><use href="#Bl" x="240" y="2194"/></g><g id="k42_5"><use href="#Bl" x="292" y="2194"/></g><g id="k42_6"><use href="#Bl" x="344" y="2194"/></g><g id="k42_7"><use href="#Bl" x="396" y="2194"/></g><g id="k42_8"><use href="#Bl" x="448" y="2194"/></g><g id="k42_9"><use href="#Bl" x="500" y="2194"/></g><g id="k42_10"><use href="#Bl" x="552" y="2194"/></g>
<g id="k43_1"><use href="#Lr" x="84" y="2246"/></g><g id="k43_2"><use href="#Lr" x="136" y="2246"/></g><g id="k43_3"><use href="#Lr" x="188" y="2246"/></g><g id="k43_4"><use href="#Dr" x="240" y="2246"/></g><g id="k43_5"><use href="#Dr" x="292" y="2246"/></g><g id="k43_6"><use href="#Br" x="344" y="2246"/></g><g id="k43_7"><use href="#Br" x="396" y="2246"/></g><g id="k43_8"><use href="#Br" x="448" y="2246"/></g><g id="k43_9"><use href="#Br" x="500" y="2246"/></g><g id="k43_10"><use href="#Br" x="552" y="2246"/></g>
<g id="k44_1"><use href="#Ll" x="84" y="2298"/></g><g id="k44_2"><use href="#Ll" x="136" y="2298"/></g><g id="k44_3"><use href="#Dl" x="188" y="2298"/></g><g id="k44_4"><use href="#Dl" x="240" y="2298"/></g><g id="k44_5"><use href="#Dl" x="292" y="2298"/></g><g id="k44_6"><use href="#Dl" x="344" y="2298"/></g><g id="k44_7"><use href="#Dl" x="396" y="2298"/></g><g id="k44_8"><use href="#Bl" x="448" y="2298"/></g><g id="k44_9"><use href="#Bl" x="500" y="2298"/></g><g id="k44_10"><use href="#Bl" x="552" y="2298"/></g>
<g id="k45_1"><use href="#Lr" x="84" y="2350"/></g><g id="k45_2"><use href="#Lr" x="136" y="2350"/></g><g id="k45_3"><use href="#Dr" x="188" y="2350"/></g><g id="k45_4"><use href="#Dr" x="240" y="2350"/></g><g id="k45_5"><use href="#Dr" x="292" y="2350"/></g><g id="k45_6"><use href="#Dr" x="344" y="2350"/></g><g id="k45_7"><use href="#Dr" x="396" y="2350"/></g><g id="k45_8"><use href="#Dr" x="448" y="2350"/></g><g id="k45_9"><use href="#Br" x="500" y="2350"/></g><g id="k45_10"><use href="#Br" x="552" y="2350"/></g>
<g id="k46_1"><use href="#Ll" x="84" y="2402"/></g><g id="k46_2"><use href="#Rl" x="136" y="2402"/></g><g id="k46_3"><use href="#Dl" x="188" y="2402"/></g><g id="k46_4"><use href="#Dl" x="240" y="2402"/></g><g id="k46_5"><use href="#Dl" x="292" y="2402"/></g><g id="k46_6"><use href="#Dl" x="344" y="2402"/></g><g id="k46_7"><use href="#Dl" x="396" y="2402"/></g><g id="k46_8"><use href="#Dl" x="448" y="2402"/></g><g id="k46_9"><use href="#Dl" x="500" y="2402"/></g><g id="k46_10"><use href="#Bl" x="552" y="2402"/></g>
<g id="k47_1"><use href="#Lr" x="84" y="2454"/></g><g id="k47_2"><use href="#Lr" x="136" y="2454"/></g><g id="k47_3"><use href="#Dr" x="188" y="2454"/></g><g id="k47_4"><use href="#Dr" x="240" y="2454"/></g><g id="k47_5"><use href="#Dr" x="292" y="2454"/></g><g id="k47_6"><use href="#Dr" x="344" y="2454"/></g><g id="k47_7"><use href="#Dr" x="396" y="2454"/></g><g id="k47_8"><use href="#Dr" x="448" y="2454"/></g><g id="k47_9"><use href="#Br" x="500" y="2454"/></g><g id="k47_10"><use href="#Br" x="552" y="2454"/></g>
<g id="k48_1"><use href="#Ll" x="84" y="2506"/></g><g id="k48_2"><use href="#Ll" x="136" y="2506"/></g><g id="k48_3"><use href="#Dl" x="188" y="2506"/></g><g id="k48_4"><use href="#Dl" x="240" y="2506"/></g><g id="k48_5"><use href="#Dl" x="292" y="2506"/></g><g id="k48_6"><use href="#Dl" x="344" y="2506"/></g><g id="k48_7"><use href="#Dl" x="396" y="2506"/></g><g id="k48_8"><use href="#Bl" x="448" y="2506"/></g><g id="k48_9"><use href="#Bl" x="500" y="2506"/></g><g id="k48_10"><use href="#Bl" x="552" y="2506"/></g>
<g id="k49_1"><use href="#Lr" x="84" y="2558"/></g><g id="k49_2"><use href="#Lr" x="136" y="2558"/></g><g id="k49_3"><use href="#Lr" x="188" y="2558"/></g><g id="k49_4"><use href="#Dr" x="240" y="2558"/></g><g id="k49_5"><use href="#Dr" x="292" y="2558"/></g><g id="k49_6"><use href="#Br" x="344" y="2558"/></g><g id="k49_7"><use href="#Br" x="396" y="2558"/></g><g id="k49_8"><use href="#Br" x="448" y="2558"/></g><g id="k49_9"><use href="#Br" x="500" y="2558"/></g><g id="k49_10"><use href="#Br" x="552" y="2558"/></g>
<g id="k50_1"><use href="#Ll" x="84" y="2610"/></g><g id="k50_2"><use href="#Ll" x="136" y="2610"/></g><g id="k50_3"><use href="#Ll" x="188" y="2610"/></g><g id="k50_4"><use href="#Bl" x="240" y="2610"/></g><g id="k50_5"><use href="#Bl" x="292" y="2610"/></g><g id="k50_6"><use href="#Bl" x="344" y="2610"/></g><g id="k50_7"><use href="#Bl" x="396" y="2610"/></g><g id="k50_8"><use href="#Bl" x="448" y="2610"/></g><g id="k50_9"><use href="#Bl" x="500" y="2610"/></g><g id="k50_10"><use href="#Bl" x="552" y="2610"/></g>
<g id="k51_1"><use href="#Lr" x="84" y="2662"/></g><g id="k51_2"><use href="#Lr" x="136" y="2662"/></g><g id="k51_3"><use href="#Lr" x="188" y="2662"/></g><g id="k51_4"><use href="#Br" x="240" y="2662"/></g><g id="k51_5"><use href="#Br" x="292" y="2662"/></g><g id="k51_6"><use href="#Br" x="344" y="2662"/></g><g id="k51_7"><use href="#Br" x="396" y="2662"/></g><g id="k51_8"><use href="#Br" x="448" y="2662"/></g><g id="k51_9"><use href="#Br" x="500" y="2662"/></g><g id="k51_10"><use href="#Br" x="552" y="2662"/></g>
<g id="k52_1"><use href="#Ll" x="84" y="2714"/></g><g id="k52_2"><use href="#Ll" x="136" y="2714"/></g><g id="k52_3"><use href="#Ll" x="188" y="2714"/></g><g id="k52_4"><use href="#Dl" x="240" y="2714"/></g><g id="k52_5"><use href="#Dl" x="292" y="2714"/></g><g id="k52_6"><use href="#Bl" x="344" y="2714"/></g><g id="k52_7"><use href="#Bl" x="396" y="2714"/></g><g id="k52_8"><use href="#Bl" x="448" y="2714"/></g><g id="k52_9"><use href="#Bl" x="500" y="2714"/></g><g id="k52_10"><use href="#Bl" x="552" y="2714"/></g>
<g id="k53_1"><use href="#Lr" x="84" y="2766"/></g><g id="k53_2"><use href="#Lr" x="136" y="2766"/></g><g id="k53_3"><use href="#Dr" x="188" y="2766"/></g><g id="k53_4"><use href="#Dr" x="240" y="2766"/></g><g id="k53_5"><use href="#Dr" x="292" y="2766"/></g><g id="k53_6"><use href="#Dr" x="344" y="2766"/></g><g id="k53_7"><use href="#Dr" x="396" y="2766"/></g><g id="k53_8"><use href="#Br" x="448" y="2766"/></g><g id="k53_9"><use href="#Br" x="500" y="2766"/></g><g id="k53_10"><use href="#Br" x="552" y="2766"/></g>
<g id="k54_1"><use href="#Ll" x="84" y="2818"/></g><g id="k54_2"><use href="#Ll" x="136" y="2818"/></g><g id="k54_3"><use href="#Dl" x="188" y="2818"/></g><g id="k54_4"><use href="#Dl" x="240" y="2818"/></g><g id="k54_5"><use href="#Dl" x="292" y="2818"/></g><g id="k54_6"><use href="#Dl" x="344" y="2818"/></g><g id="k54_7"><use href="#Dl" x="396" y="2818"/></g><g id="k54_8"><use href="#Dl" x="448" y="2818"/></g><g id="k54_9"><use href="#Bl" x="500" y="2818"/></g><g id="k54_10"><use href="#Bl" x="552" y="2818"/></g>
<g id="k55_1"><use href="#Lr" x="84" y="2870"/></g><g id="k55_2"><use href="#Rr" x="136" y="2870"/></g><g id="k55_3"><use href="#Dr" x="188" y="2870"/></g><g id="k55_4"><use href="#Dr" x="240" y="2870"/></g><g id="k55_5"><use href="#Dr" x="292" y="2870"/></g><g id="k55_6"><use href="#Dr" x="344" y="2870"/></g><g id="k55_7"><use href="#Dr" x="396" y="2870"/></g><g id="k55_8"><use href="#Dr" x="448" y="2870"/></g><g id="k55_9"><use href="#Dr" x="500" y="2870"/></g><g id="k55_10"><use href="#Br" x="552" y="2870"/></g>
<g id="k56_1"><use href="#Ll" x="84" y="2922"/></g><g id="k56_2"><use href="#Ll" x="136" y="2922"/></g><g id="k56_3"><use href="#Dl" x="188" y="2922"/></g><g id="k56_4"><use href="#Dl" x="240" y="2922"/></g><g id="k56_5"><use href="#Dl" x="292" y="2922"/></g><g id="k56_6"><use href="#Dl" x="344" y="2922"/></g><g id="k56_7"><use href="#Dl" x="396" y="2922"/></g><g id="k56_8"><use href="#Dl" x="448" y="2922"/></g><g id="k56_9"><use href="#Bl" x="500" y="2922"/></g><g id="k56_10"><use href="#Bl" x="552" y="2922"/></g>
<g id="k57_1"><use href="#Lr" x="84" y="2974"/></g><g id="k57_2"><use href="#Lr" x="136" y="2974"/></g><g id="k57_3"><use href="#Dr" x="188" y="2974"/></g><g id="k57_4"><use href="#Dr" x="240" y="2974"/></g><g id="k57_5"><use href="#Dr" x="292" y="2974"/></g><g id="k57_6"><use href="#Dr" x="344" y="2974"/></g><g id="k57_7"><use href="#Dr" x="396" y="2974"/></g><g id="k57_8"><use href="#Br" x="448" y="2974"/></g><g id="k57_9"><use href="#Br" x="500" y="2974"/></g><g id="k57_10"><use href="#Br" x="552" y="2974"/></g>
<g id="k58_1"><use href="#Ll" x="84" y="3026"/></g><g id="k58_2"><use href="#Ll" x="136" y="3026"/></g><g id="k58_3"><use href="#Ll" x="188" y="3026"/></g><g id="k58_4"><use href="#Dl" x="240" y="3026"/></g><g id="k58_5"><use href="#Dl" x="292" y="3026"/></g><g id="k58_6"><use href="#Bl" x="344" y="3026"/></g><g id="k58_7"><use href="#Bl" x="396" y="3026"/></g><g id="k58_8"><use href="#Bl" x="448" y="3026"/></g><g id="k58_9"><use href="#Bl" x="500" y="3026"/></g><g id="k58_10"><use href="#Bl" x="552" y="3026"/></g>
<g id="k59_1"><use href="#Lr" x="84" y="3078"/></g><g id="k59_2"><use href="#Lr" x="136" y="3078"/></g><g id="k59_3"><use href="#Lr" x="188" y="3078"/></g><g id="k59_4"><use href="#Br" x="240" y="3078"/></g><g id="k59_5"><use href="#Br" x="292" y="3078"/></g><g id="k59_6"><use href="#Br" x="344" y="3078"/></g><g id="k59_7"><use href="#Br" x="396" y="3078"/></g><g id="k59_8"><use href="#Br" x="448" y="3078"/></g><g id="k59_9"><use href="#Br" x="500" y="3078"/></g><g id="k59_10"><use href="#Br" x="552" y="3078"/></g>
<g id="k60_1"><use href="#Ll" x="84" y="3130"/></g><g id="k60_2"><use href="#Ll" x="136" y="3130"/></g><g id="k60_3"><use href="#Ll" x="188" y="3130"/></g><g id="k60_4"><use href="#Bl" x="240" y="3130"/></g><g id="k60_5"><use href="#Bl" x="292" y="3130"/></g><g id="k60_6"><use href="#Bl" x="344" y="3130"/></g><g id="k60_7"><use href="#Bl" x="396" y="3130"/></g><g id="k60_8"><use href="#Bl" x="448" y="3130"/></g><g id="k60_9"><use href="#Bl" x="500" y="3130"/></g><g id="k60_10"><use href="#Bl" x="552" y="3130"/></g>
<g id="k61_1"><use href="#Lr" x="84" y="3182"/></g><g id="k61_2"><use href="#Lr" x="136" y="3182"/></g><g id="k61_3"><use href="#Lr" x="188" y="3182"/></g><g id="k61_4"><use href="#Dr" x="240" y="3182"/></g><g id="k61_5"><use href="#Dr" x="292" y="3182"/></g><g id="k61_6"><use href="#Br" x="344" y="3182"/></g><g id="k61_7"><use href="#Br" x="396" y="3182"/></g><g id="k61_8"><use href="#Br" x="448" y="3182"/></g><g id="k61_9"><use href="#Br" x="500" y="3182"/></g><g id="k61_10"><use href="#Br" x="552" y="3182"/></g>
<g id="k62_1"><use href="#Ll" x="84" y="3234"/></g><g id="k62_2"><use href="#Ll" x="136" y="3234"/></g><g id="k62_3"><use href="#Dl" x="188" y="3234"/></g><g id="k62_4"><use href="#Dl" x="240" y="3234"/></g><g id="k62_5"><use href="#Dl" x="292" y="3234"/></g><g id="k62_6"><use href="#Dl" x="344" y="3234"/></g><g id="k62_7"><use href="#Dl" x="396" y="3234"/></g><g id="k62_8"><use href="#Bl" x="448" y="3234"/></g><g id="k62_9"><use href="#Bl" x="500" y="3234"/></g><g id="k62_10"><use href="#Bl" x="552" y="3234"/></g>
</g>
<g id="tags">
<text class="tag" x="31" y="66">A</text>
<text class="tag" x="31" y="3238">A</text>
<text class="tag" x="601" y="2874">B</text>
</g>
<g id="labels-left" class="lb le">
<text x="21" y="67">1</text><text x="21" y="119">2</text><text x="21" y="171">3</text><text x="21" y="223">4</text><text x="21" y="275">5</text><text x="21" y="327">6</text><text x="21" y="379">7</text><text x="21" y="431">8</text><text x="21" y="483">9</text><text x="21" y="535">10</text>
<text x="21" y="587">11</text><text x="21" y="639">12</text><text x="21" y="691">13</text><text x="21" y="743">14</text><text x="21" y="795">15</text><text x="21" y="847">16</text><text x="21" y="899">17</text><text x="21" y="951">18</text><text x="21" y="1003">19</text><text x="21" y="1055">20</text>
<text x="21" y="1107">21</text><text x="21" y="1159">22</text><text x="21" y="1211">23</text><text x="21" y="1263">24</text><text x="21" y="1315">25</text><text x="21" y="1367">26</text><text x="21" y="1419">27</text><text x="21" y="1471">28</text><text x="21" y="1523">29</text><text x="21" y="1575">30</text>
<text x="21" y="1627">31</text><text x="21" y="1679">32</text><text x="21" y="1731">33</text><text x="21" y="1783">34</text><text x="21" y="1835">35</text><text x="21" y="1887">36</text><text x="21" y="1939">37</text><text x="21" y="1991">38</text><text x="21" y="2043">39</text><text x="21" y="2095">40</text>
<text x="21" y="2147">41</text><text x="21" y="2199">42</text><text x="21" y="2251">43</text><text x="21" y="2303">44</text><text x="21" y="2355">45</text><text x="21" y="2407">46</text><text x="21" y="2459">47</text><text x="21" y="2511">48</text><text x="21" y="2563">49</text><text x="21" y="2615">50</text>
<text x="21" y="2667">51</text><text x="21" y="2719">52</text><text x="21" y="2771">53</text><text x="21" y="2823">54</text><text x="21" y="2875">55</text><text x="21" y="2927">56</text><text x="21" y="2979">57</text><text x="21" y="3031">58</text><text x="21" y="3083">59</text><text x="21" y="3135">60</text>
<text x="21" y="3187">61</text><text x="21" y="3239">62</text>
</g>
<g id="labels-right" class="lb">
<text x="614" y="67">1</text><text x="614" y="119">2</text><text x="614" y="171">3</text><text x="614" y="223">4</text><text x="614" y="275">5</text><text x="614" y="327">6</text><text x="614" y="379">7</text><text x="614" y="431">8</text><text x="614" y="483">9</text><text x="614" y="535">10</text>
<text x="614" y="587">11</text><text x="614" y="639">12</text><text x="614" y="691">13</text><text x="614" y="743">14</text><text x="614" y="795">15</text><text x="614" y="847">16</text><text x="614" y="899">17</text><text x="614" y="951">18</text><text x="614" y="1003">19</text><text x="614" y="1055">20</text>
<text x="614" y="1107">21</text><text x="614" y="1159">22</text><text x="614" y="1211">23</text><text x="614" y="1263">24</text><text x="614" y="1315">25</text><text x="614" y="1367">26</text><text x="614" y="1419">27</text><text x="614" y="1471">28</text><text x="614" y="1523">29</text><text x="614" y="1575">30</text>
<text x="614" y="1627">31</text><text x="614" y="1679">32</text><text x="614" y="1731">33</text><text x="614" y="1783">34</text><text x="614" y="1835">35</text><text x="614" y="1887">36</text><text x="614" y="1939">37</text><text x="614" y="1991">38</text><text x="614" y="2043">39</text><text x="614" y="2095">40</text>
<text x="614" y="2147">41</text><text x="614" y="2199">42</text><text x="614" y="2251">43</text><text x="614" y="2303">44</text><text x="614" y="2355">45</text><text x="614" y="2407">46</text><text x="614" y="2459">47</text><text x="614" y="2511">48</text><text x="614" y="2563">49</text><text x="614" y="2615">50</text>
<text x="614" y="2667">51</text><text x="614" y="2719">52</text><text x="614" y="2771">53</text><text x="614" y="2823">54</text><text x="614" y="2875">55</text><text x="614" y="2927">56</text><text x="614" y="2979">57</text><text x="614" y="3031">58</text><text x="614" y="3083">59</text><text x="614" y="3135">60</text>
<text x="614" y="3187">61</text><text x="614" y="3239">62</text>
</g>
<g id="watermark">
<rect x="240" y="1639" width="157" height="18" fill="#fff" fill-opacity="0.55"/>
<text class="wm" x="318" y="1653">BRACELETBOOK.COM</text>
</g>
</svg>
